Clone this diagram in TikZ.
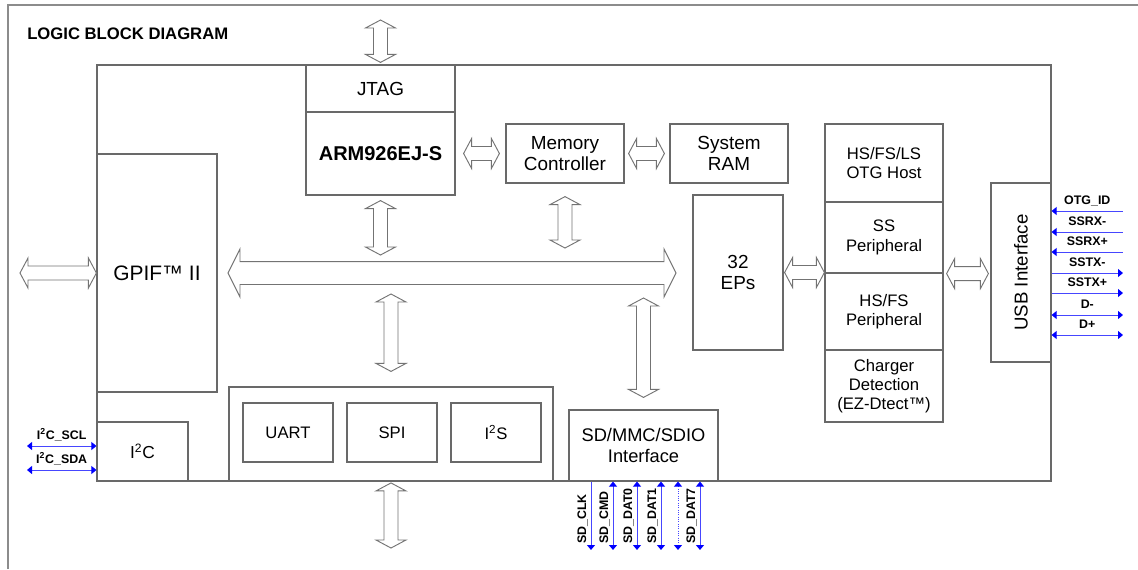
\documentclass[tikz,border=0pt]{standalone}
\usepackage{fontspec}
\setmainfont{Liberation Sans}
\usetikzlibrary{arrows.meta,calc}

\definecolor{boxgray}{RGB}{105,105,105}
\definecolor{framegray}{RGB}{140,140,140}
\definecolor{arrowgray}{RGB}{115,115,115}
\definecolor{sigblue}{RGB}{70,70,255}

% fat double arrows: from, to, shaft half width, head half width, head length
\newcommand{\hfatx}[5]{%
  \draw[fat] let \p1=#1, \p2=#2 in
    (\x1,\y1) -- (\x1+#5,\y1+#4) -- (\x1+#5,\y1+#3) -- (\x2-#5,\y1+#3)
    -- (\x2-#5,\y1+#4) -- (\x2,\y1) -- (\x2-#5,\y1-#4) -- (\x2-#5,\y1-#3)
    -- (\x1+#5,\y1-#3) -- (\x1+#5,\y1-#4) -- cycle;}
\newcommand{\vfatx}[5]{%
  \draw[fat] let \p1=#1, \p2=#2 in
    (\x1,\y1) -- (\x1+#4,\y1-#5) -- (\x1+#3,\y1-#5) -- (\x1+#3,\y2+#5)
    -- (\x1+#4,\y2+#5) -- (\x1,\y2) -- (\x1-#4,\y2+#5) -- (\x1-#3,\y2+#5)
    -- (\x1-#3,\y1-#5) -- (\x1-#4,\y1-#5) -- cycle;}
\newcommand{\hfat}[2]{\hfatx{#1}{#2}{5.25pt}{11.25pt}{6pt}}
\newcommand{\vfat}[2]{\vfatx{#1}{#2}{5.25pt}{11.25pt}{6pt}}

\tikzset{
  corners/.style n args={4}{at={({(#1+#3)/2},{(#2+#4)/2})},
              minimum width={(#3-#1)*0.75pt}, minimum height={(#4-#2)*0.75pt}},
  blk/.style={draw=boxgray, line width=0.9pt, inner sep=0pt, align=center,
              font=\fontsize{14.2}{16.3}\selectfont},
  usbblk/.style={blk, font=\fontsize{12.5}{14.4}\selectfont},
  ioblk/.style={blk, font=\fontsize{12.5}{14.4}\selectfont},
  fat/.style={draw=arrowgray, line width=0.7pt, fill=white},
  sig/.style={draw=sigblue, line width=0.75pt,
              >={Triangle[length=3.75pt,width=6pt,color=blue]}},
  siglabel/.style={inner sep=0pt, font=\fontsize{9.3}{11}\selectfont\bfseries},
}

\begin{document}
\begin{tikzpicture}[x=0.75pt,y=-0.75pt]
\useasboundingbox (0,0) rectangle (1138,569);
\draw[draw=framegray, line width=1.5pt] (8,569) -- (8,5) -- (1138,5);
\node[anchor=west, inner sep=0pt, font=\fontsize{12.5}{15}\selectfont\bfseries] (title) at (27,34) {LOGIC BLOCK DIAGRAM};

% chip outline and blocks
\node[blk, corners={97}{65}{1051}{481}] (chip) {};
\node[blk, corners={306}{65}{455}{112}] (jtag) {JTAG};
\node[blk, corners={306}{112}{455}{195}, font=\fontsize{15}{18}\selectfont\bfseries] (arm) {ARM926EJ-S};
\node[blk, corners={506}{124}{624}{183}] (mem) {Memory\\Controller};
\node[blk, corners={670}{124}{788}{183}] (ram) {System\\RAM};
\node[blk, corners={97}{154}{217}{392}, font=\fontsize{15.7}{18}\selectfont] (gpif) {GPIF™ II};
\node[blk, corners={693}{195}{783}{350}] (eps) {32\\EPs};
\node[usbblk, corners={825}{124}{943}{202}] (otg) {HS/FS/LS\\OTG Host};
\node[usbblk, corners={825}{202}{943}{273}] (ss) {SS\\Peripheral};
\node[usbblk, corners={825}{273}{943}{350}] (hsfs) {HS/FS\\Peripheral};
\node[usbblk, corners={825}{350}{943}{422}] (chg) {Charger\\Detection\\(EZ-Dtect™)};
\node[blk, corners={991}{183}{1051}{362}] (usb) {};
\node[rotate=90, font=\fontsize{14}{16}\selectfont] (usbtext) at (usb) {USB Interface};
\node[blk, corners={229}{387}{553}{481}] (periph) {};
\node[ioblk, corners={243}{403}{333}{462}] (uart) {UART};
\node[ioblk, corners={347}{403}{437}{462}] (spi) {SPI};
\node[ioblk, corners={451}{403}{541}{462}] (i2s) {I\textsuperscript{2}S};
\node[blk, corners={97}{422}{188}{481}, font=\fontsize{13}{15}\selectfont] (i2c) {I\textsuperscript{2}C};
\node[blk, corners={569}{410}{718}{481}, font=\fontsize{13.7}{16.3}\selectfont] (sd) {SD/MMC/SDIO\\Interface};

% fat arrows
\coordinate (jtagin) at (jtag.north |- 0,20);
\coordinate (gpifin) at (20,273);
\coordinate (busw) at (228,273);
\coordinate (buse) at (676,273);
\vfat{(jtagin)}{([yshift=1.5pt]jtag.north)}
\hfat{(gpifin)}{(gpif.west)}
\hfat{([xshift=6pt]arm.east)}{([xshift=-4.5pt]mem.west)}
\hfat{([xshift=3pt]mem.east)}{([xshift=-3.75pt]ram.west)}
\hfatx{(busw)}{(buse)}{8.6pt}{18pt}{9pt}
\vfat{([yshift=-3.75pt]arm.south)}{(arm.south |- 0,255)}
\vfat{([yshift=-9.75pt]mem.south)}{(mem.south |- 0,248)}
\vfat{(periph.north |- 0,294)}{([yshift=11.25pt]periph.north)}
\vfat{(sd.north |- 0,298)}{([yshift=9pt]sd.north)}
\vfat{([yshift=-1pt]periph.south)}{(periph.south |- 0,548)}
\hfat{([xshift=0.75pt]eps.east)}{(ss.south west)}
\hfat{([xshift=2.25pt]ss.south east)}{([xshift=-1.5pt]usb.west)}

% usb signals
\draw[sig,<-] (usb.east |- 0,211) -- (1123,211) node[siglabel, pos=0.5, anchor=base, yshift=5pt] (lotg) {OTG\_ID};
\draw[sig,<-] (usb.east |- 0,232) -- (1123,232) node[siglabel, pos=0.5, anchor=base, yshift=5pt] (lrxm) {SSRX-};
\draw[sig,<-] (usb.east |- 0,252) -- (1123,252) node[siglabel, pos=0.5, anchor=base, yshift=5pt] (lrxp) {SSRX+};
\draw[sig,->] (usb.east |- 0,273) -- (1123,273) node[siglabel, pos=0.5, anchor=base, yshift=5pt] (ltxm) {SSTX-};
\draw[sig,->] (usb.east |- 0,293) -- (1123,293) node[siglabel, pos=0.5, anchor=base, yshift=5pt] (ltxp) {SSTX+};
\draw[sig,<->] (usb.east |- 0,315) -- (1123,315) node[siglabel, pos=0.5, anchor=base, yshift=5pt] (ldm) {D-};
\draw[sig,<->] (usb.east |- 0,335) -- (1123,335) node[siglabel, pos=0.5, anchor=base, yshift=5pt] (ldp) {D+};

% i2c signals
\draw[sig,<->] (27,446) -- (i2c.west |- 0,446) node[siglabel, pos=0.5, anchor=base, yshift=5pt] (lscl) {I\textsuperscript{2}C\_SCL};
\draw[sig,<->] (27,470) -- (i2c.west |- 0,470) node[siglabel, pos=0.5, anchor=base, yshift=5pt] (lsda) {I\textsuperscript{2}C\_SDA};

% sd signals
\draw[sig,->]  (591,0 |- sd.south) -- (591,550);
\draw[sig,<->] (613,0 |- sd.south) -- (613,550);
\draw[sig,<->] (637,0 |- sd.south) -- (637,550);
\draw[sig,<->] (661,0 |- sd.south) -- (661,550);
\draw[sig,<->,densely dotted] (678,0 |- sd.south) -- (678,550);
\draw[sig,<->] (700,0 |- sd.south) -- (700,550);
\node[siglabel, rotate=90, anchor=base west] (lclk) at (586,544) {SD\_CLK};
\node[siglabel, rotate=90, anchor=base west] (lcmd) at (608,544) {SD\_CMD};
\node[siglabel, rotate=90, anchor=base west] (ld0) at (632,544) {SD\_DAT0};
\node[siglabel, rotate=90, anchor=base west] (ld1) at (656,544) {SD\_DAT1};
\node[siglabel, rotate=90, anchor=base west] (ld7) at (695,544) {SD\_DAT7};
\end{tikzpicture}
\end{document}
